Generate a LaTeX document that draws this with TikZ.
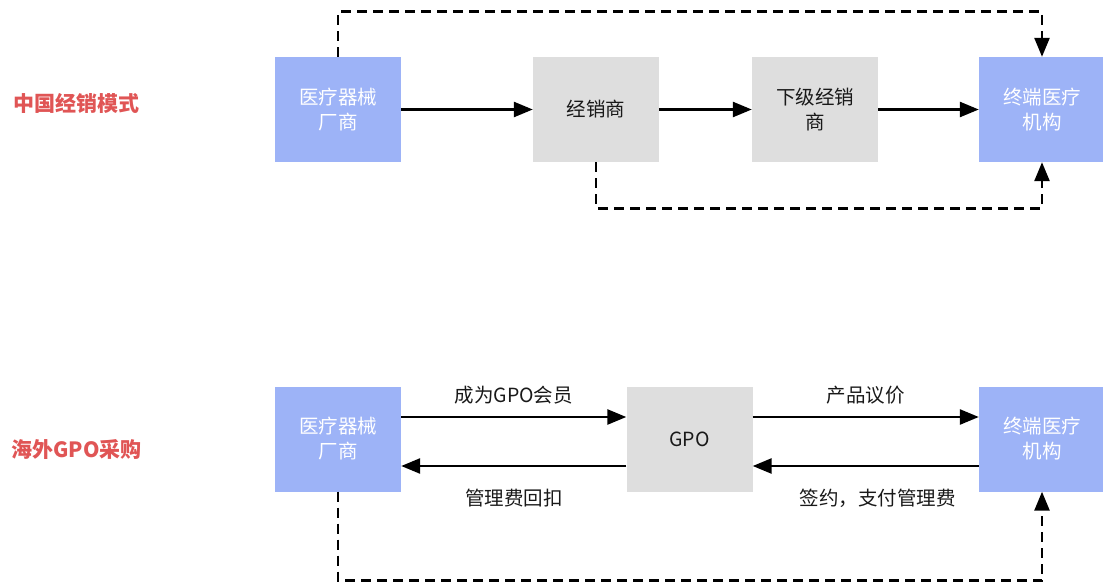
\documentclass[tikz,border=0pt]{standalone}
\usepackage{fontspec}
\setmainfont{Noto Sans CJK SC}
\usetikzlibrary{arrows.meta}
\definecolor{boxblue}{HTML}{9DB3F7}
\definecolor{boxgray}{HTML}{DEDEDE}
\definecolor{titlered}{HTML}{E05555}
\begin{document}
\begin{tikzpicture}[x=1pt,y=-1pt,
  box/.style={minimum width=126pt, minimum height=105pt, inner sep=0pt,
    align=center, font=\fontsize{19.5}{25}\selectfont},
  bluebox/.style={box, fill=boxblue, text=white},
  graybox/.style={box, fill=boxgray, text=black!90},
  heading/.style={anchor=west, text=titlered, font=\fontsize{21}{24}\selectfont\bfseries},
  flow/.style={line width=2.6pt, -{Triangle[length=19pt,width=15pt]}},
  back/.style={flow, dash pattern=on 10pt off 6pt},
  lbl/.style={font=\fontsize{19.5}{22}\selectfont, text=black!90}]
\useasboundingbox (0,0) rectangle (1103,586);

% section headings
\node[heading] (h1) at (10,103) {中国经销模式};
\node[heading] (h2) at (8,450) {海外GPO采购};

% domestic distribution chain
\node[bluebox] (m1) at (338,109.5) {医疗器械\\厂商};
\node[graybox] (d1) at (596,109.5) {经销商};
\node[graybox] (d2) at (815,109.5) {下级经销\\商};
\node[bluebox] (e1) at (1042,109.5) {终端医疗\\机构};

\draw[flow] (m1) -- (d1);
\draw[flow] (d1) -- (d2);
\draw[flow] (d2) -- (e1);
\draw[back] (m1.north) -- ++(0,-45) -| (e1.north);
\draw[back] (d1.south) -- ++(0,46) -| (e1.south);

% overseas GPO purchasing
\node[bluebox] (m2) at (338,439) {医疗器械\\厂商};
\node[graybox] (g) at (689.5,439) {GPO};
\node[bluebox] (e2) at (1042,439) {终端医疗\\机构};

\draw[flow] ([yshift=22pt]m2.east) -- ([yshift=22pt]g.west)
  node[lbl, midway, yshift=22pt] {成为GPO会员};
\draw[flow] ([yshift=-27pt]g.west) -- ([yshift=-27pt]m2.east)
  node[lbl, midway, yshift=-32pt] {管理费回扣};
\draw[flow] ([yshift=22pt]g.east) -- ([yshift=22pt]e2.west)
  node[lbl, midway, yshift=22pt] {产品议价};
\draw[flow] ([yshift=-27pt]e2.west) -- ([yshift=-27pt]g.east)
  node[lbl, midway, xshift=12pt, yshift=-32pt] {签约，支付管理费};
\draw[back] (m2.south) -- ++(0,89) -| (e2.south);
\end{tikzpicture}
\end{document}
